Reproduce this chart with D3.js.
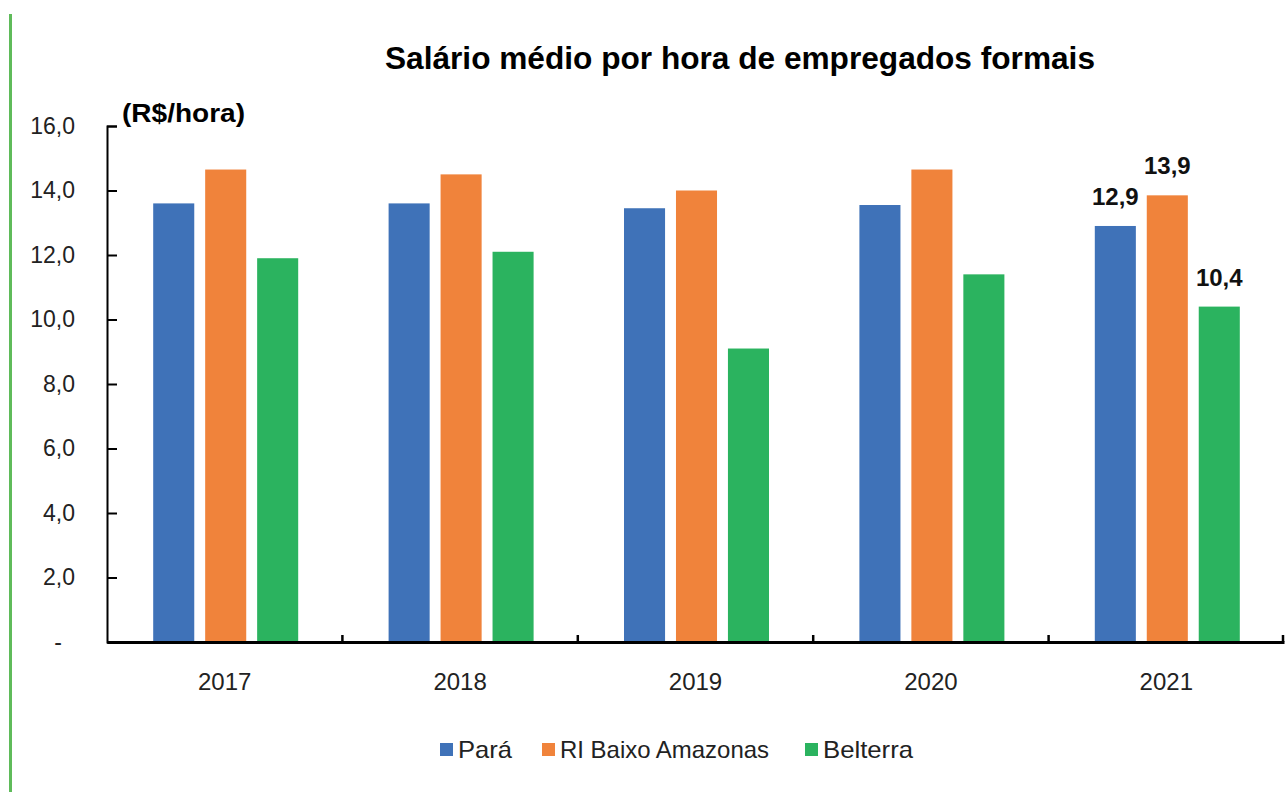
<!DOCTYPE html>
<html>
<head>
<meta charset="utf-8">
<script src="https://cdn.jsdelivr.net/npm/d3@7"></script>
<style>
  html, body { margin: 0; padding: 0; background: #fff; }
  svg { display: block; font-family: "Liberation Sans", Arial, sans-serif; }
</style>
</head>
<body>
<div id="chart"></div>
<script>
// Chart data
const years = ['2017', '2018', '2019', '2020', '2021'];
const seriesNames = ['Pará', 'RI Baixo Amazonas', 'Belterra'];
const para = [13.6, 13.6, 13.45, 13.55, 12.9];
const baixoAmazonas = [14.65, 14.5, 14.0, 14.65, 13.85];
const belterra = [11.9, 12.1, 9.1, 11.4, 10.4];
const yTicks = [0, 2, 4, 6, 8, 10, 12, 14, 16];
const labelledYear = '2021';
const labelTexts = ['12,9', '13,9', '10,4'];

const colors = ['#3f72b8', '#f0833b', '#2bb35f'];

const width = 1287;
const height = 792;
const margin = { top: 126, right: 3, bottom: 150, left: 107 };

const svg = d3.select('#chart')
    .append('svg')
    .attr('width', width)
    .attr('height', height);

// Green border line on the left
svg.append('rect')
    .attr('x', 9)
    .attr('y', 14)
    .attr('width', 3)
    .attr('height', height - 14)
    .attr('fill', '#5fbb5a');

const allSeries = [para, baixoAmazonas, belterra];
const rows = years.map((yr, i) => ({
    year: yr,
    values: seriesNames.map((name, s) => ({ name, s, value: allSeries[s][i] }))
}));

const groupWidth = 145;

const x0 = d3.scaleBand()
    .domain(years)
    .range([margin.left, width - margin.right])
    .paddingInner(0)
    .paddingOuter(0);

const x1 = d3.scaleBand()
    .domain(seriesNames)
    .range([0, groupWidth])
    .paddingInner(0.21);

const y = d3.scaleLinear()
    .domain([0, 16])
    .range([height - margin.bottom, margin.top]);

// Title
svg.append('text')
    .attr('x', 740)
    .attr('y', 69)
    .attr('text-anchor', 'middle')
    .style('font-size', '31px')
    .style('font-weight', 'bold')
    .attr('textLength', 710)
    .attr('lengthAdjust', 'spacingAndGlyphs')
    .text('Salário médio por hora de empregados formais');

// Unit label
svg.append('text')
    .attr('x', 122)
    .attr('y', 122)
    .style('font-size', '26px')
    .style('font-weight', 'bold')
    .attr('textLength', 123)
    .attr('lengthAdjust', 'spacingAndGlyphs')
    .text('(R$/hora)');

// Bars
const groups = svg.append('g')
    .selectAll('g')
    .data(rows)
    .join('g')
    .attr('transform', d => `translate(${x0(d.year) + (x0.bandwidth() - groupWidth) / 2 + 1},0)`);

groups.selectAll('rect')
    .data(d => d.values)
    .join('rect')
    .attr('x', d => x1(d.name))
    .attr('width', x1.bandwidth())
    .attr('y', d => y(d.value))
    .attr('height', d => y(0) - y(d.value))
    .attr('fill', d => colors[d.s]);

// Data labels for the last year
groups.filter(d => d.year === labelledYear)
    .selectAll('text')
    .data(d => d.values)
    .join('text')
    .attr('x', d => x1(d.name) + x1.bandwidth() / 2)
    .attr('y', d => y(d.value) - 21)
    .attr('text-anchor', 'middle')
    .style('font-size', '24px')
    .style('font-weight', 'bold')
    .attr('fill', '#111')
    .text((d, i) => labelTexts[i]);

// Y axis
const yAxis = d3.axisLeft(y)
    .tickValues(yTicks)
    .tickSize(-10)
    .tickPadding(32)
    .tickFormat(d => d === 0 ? '-' : d3.format('.1f')(d).replace('.', ','));

const yg = svg.append('g')
    .attr('transform', `translate(${margin.left},0)`)
    .call(yAxis);
yg.select('.domain').attr('stroke', '#000').attr('stroke-width', 2);
yg.selectAll('.tick line').attr('stroke', '#000').attr('stroke-width', 2);
yg.selectAll('.tick text')
    .style('font-size', '23px')
    .attr('fill', '#222')
    .attr('dx', d => d === 0 ? -13 : 0);

// X axis
const xAxis = d3.axisBottom(x0).tickSize(0).tickPadding(31);
const xg = svg.append('g')
    .attr('transform', `translate(0,${y(0)})`)
    .call(xAxis);
xg.select('.domain').attr('stroke', '#000').attr('stroke-width', 3);
xg.selectAll('.tick text')
    .style('font-size', '24px')
    .attr('fill', '#222');

// Tick marks between categories (pointing up)
const boundaries = years.slice(1).map(yr => x0(yr)).concat([width - margin.right - 1]);
svg.append('g')
    .selectAll('line')
    .data(boundaries)
    .join('line')
    .attr('x1', d => d)
    .attr('x2', d => d)
    .attr('y1', y(0))
    .attr('y2', y(0) - 7)
    .attr('stroke', '#000')
    .attr('stroke-width', 2.5);

// Legend
const legendItems = [
    { name: seriesNames[0], x: 440, w: 54 },
    { name: seriesNames[1], x: 542, w: 209 },
    { name: seriesNames[2], x: 805, w: 90 }
];
const legend = svg.append('g')
    .selectAll('g')
    .data(legendItems)
    .join('g')
    .attr('transform', d => `translate(${d.x},750)`);

legend.append('rect')
    .attr('x', 0)
    .attr('y', -7)
    .attr('width', 13)
    .attr('height', 13)
    .attr('fill', (d, i) => colors[i]);

legend.append('text')
    .attr('x', 18)
    .attr('y', 8)
    .style('font-size', '24px')
    .attr('fill', '#222')
    .attr('textLength', d => d.w)
    .attr('lengthAdjust', 'spacingAndGlyphs')
    .text(d => d.name);
</script>
</body>
</html>
